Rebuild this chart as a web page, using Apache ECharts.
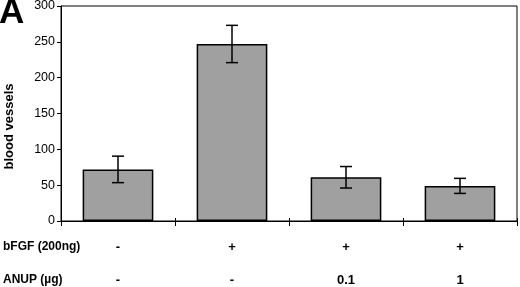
<!DOCTYPE html>
<html><head><meta charset="utf-8">
<script src="https://cdn.jsdelivr.net/npm/echarts@6/dist/echarts.min.js"></script>
<style>html,body{margin:0;padding:0;background:#fff}#c{width:520px;height:287px}</style>
</head><body><div id="c"></div>
<script>
var bfgf = ['-', '+', '+', '+'];
var anup = ['-', '-', '0.1', '1'];
var values = [72, 247, 61, 49];
var errors = [18.5, 26, 15, 10.5];
var yTicks = [0, 50, 100, 150, 200, 250, 300];
var cats = bfgf.map(function (b, i) { return b + '\n' + anup[i]; });

var chart = echarts.init(document.getElementById('c'));
var FF = '"Liberation Sans", Arial, sans-serif';
chart.setOption({
  animation: false,
  grid: { left: 61, right: 3, top: 6, bottom: 66, show: true, borderColor: '#000', borderWidth: 1,
    containLabel: false, outerBoundsMode: 'none' },
  graphic: [
    { type: 'text', left: -1, top: -4, style: { text: 'A', font: 'bold 35px ' + FF, fill: '#000' } },
    { type: 'text', left: 3, top: 241, style: { text: 'bFGF (200ng)', font: 'bold 12px ' + FF, fill: '#000' } },
    { type: 'text', left: 3, top: 274, style: { text: 'ANUP (\u00b5g)', font: 'bold 12px ' + FF, fill: '#000' } }
  ],
  xAxis: [{
    type: 'category', data: cats,
    axisLine: { lineStyle: { color: '#000', width: 1 } },
    axisTick: { show: true, length: 5, lineStyle: { color: '#000' } },
    axisLabel: { color: '#000', fontFamily: FF, fontWeight: 'bold', fontSize: 13, lineHeight: 33, margin: 10 }
  }, {
    type: 'category', data: cats, position: 'bottom',
    axisLine: { show: false },
    axisTick: { show: true, inside: true, length: 3, lineStyle: { color: '#000' } },
    axisLabel: { show: false }
  }],
  yAxis: {
    type: 'value', min: 0, max: 300, interval: 50,
    name: 'blood vessels', nameLocation: 'middle', nameGap: 45,
    nameTextStyle: { color: '#000', fontFamily: FF, fontWeight: 'bold', fontSize: 13, padding: [0, 26, 0, 0] },
    axisLine: { show: true, lineStyle: { color: '#000', width: 1 } },
    axisTick: { show: true, length: 4, lineStyle: { color: '#000' } },
    axisLabel: { color: '#000', fontFamily: FF, fontSize: 12.5, margin: 6,
      formatter: function (v) { return yTicks.indexOf(v) >= 0 ? String(v) : ''; } },
    splitLine: { show: false }
  },
  series: [{
    type: 'bar', data: values, barCategoryGap: '38%',
    itemStyle: { color: '#a0a0a0', borderColor: '#000', borderWidth: 1.5 }
  }, {
    type: 'custom',
    data: values.map(function (v, i) { return [i, v - errors[i], v + errors[i]]; }),
    renderItem: function (params, api) {
      var lo = api.coord([api.value(0), api.value(1)]);
      var hi = api.coord([api.value(0), api.value(2)]);
      var w = 6;
      var st = { stroke: '#000', lineWidth: 1.5 };
      return { type: 'group', children: [
        { type: 'line', shape: { x1: hi[0], y1: hi[1], x2: lo[0], y2: lo[1] }, style: st },
        { type: 'line', shape: { x1: hi[0] - w, y1: hi[1], x2: hi[0] + w, y2: hi[1] }, style: st },
        { type: 'line', shape: { x1: lo[0] - w, y1: lo[1], x2: lo[0] + w, y2: lo[1] }, style: st }
      ] };
    },
    z: 10
  }]
});
</script></body></html>
